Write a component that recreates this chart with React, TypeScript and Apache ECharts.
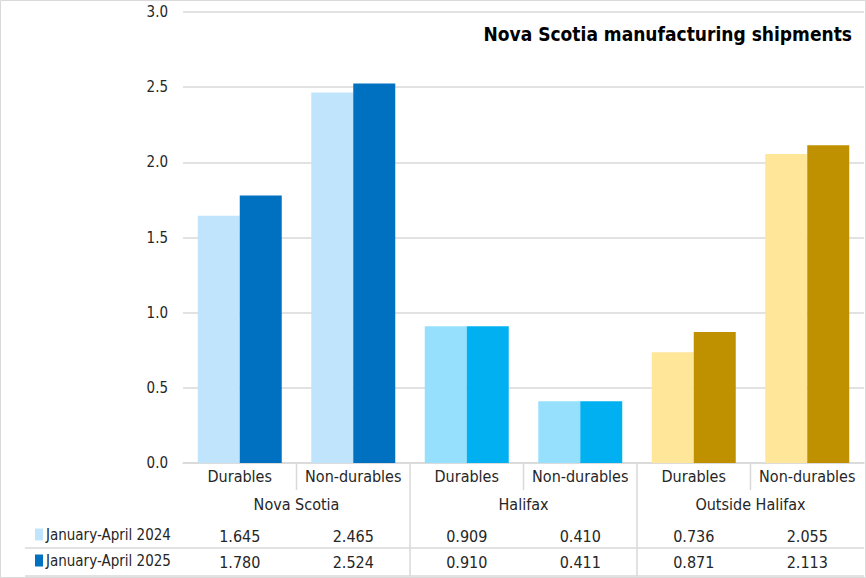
import React, { useEffect, useRef } from "react";
import * as echarts from "echarts";

const categories = ["Durables", "Non-durables", "Durables", "Non-durables", "Durables", "Non-durables"];
const groups = ["Nova Scotia", "Halifax", "Outside Halifax"];
const seriesNames = ["January-April 2024", "January-April 2025"];
const values2024 = [1.645, 2.465, 0.909, 0.41, 0.736, 2.055];
const values2025 = [1.78, 2.524, 0.91, 0.411, 0.871, 2.113];
const lightColors = ["#C0E4FC", "#C0E4FC", "#97E0FD", "#97E0FD", "#FFE699", "#FFE699"];
const darkColors = ["#0070C0", "#0070C0", "#00B0F0", "#00B0F0", "#BF9000", "#BF9000"];
const yTicks = { min: 0, max: 3, interval: 0.5 };
const title = "Nova Scotia manufacturing shipments";

const FONT = "'Liberation Sans Narrow', 'DejaVu Sans Condensed', 'Arial Narrow', sans-serif";
const TXT = "#262626";
const LINE = "#D9D9D9";

export default function App() {
  const ref = useRef<HTMLDivElement>(null);
  useEffect(() => {
    if (!ref.current) return;
    const chart = echarts.init(ref.current, undefined, { renderer: "svg" });
    const W = 866, H = 578;
    const left = 183, right = 2, top = 12, bottom = 115;
    const cw = (W - left - right) / categories.length;
    const axisY = H - bottom;
    const graphics: any[] = [];
    graphics.push({
      type: "rect",
      shape: { x: 0.5, y: 0.5, width: W - 1, height: H - 1 },
      style: { fill: "none", stroke: LINE, lineWidth: 1 },
      silent: true,
    });
    for (let i = 1; i < categories.length; i++) {
      const x = left + i * cw;
      const isGroup = i % 2 === 0;
      graphics.push({
        type: "line",
        shape: { x1: x, y1: axisY, x2: x, y2: isGroup ? H - 2 : axisY + 27 },
        style: { stroke: LINE, lineWidth: 1.5 },
        silent: true,
      });
    }
    [548, 576].forEach((y) => {
      graphics.push({
        type: "line",
        shape: { x1: 25, y1: y, x2: W - right, y2: y },
        style: { stroke: LINE, lineWidth: 1.5 },
        silent: true,
      });
    });

    const labelStyle = { fontFamily: FONT, fontSize: 16, color: TXT };
    chart.setOption({
      animation: false,
      title: {
        text: title,
        right: 9,
        top: 19,
        textStyle: { fontFamily: FONT, fontSize: 19, fontWeight: "bold", color: "#000" },
      },
      legend: {
        orient: "vertical",
        left: 30,
        top: 522,
        itemGap: 11,
        itemWidth: 8,
        itemHeight: 12,
        icon: "rect",
        textStyle: { fontFamily: FONT, fontSize: 15, color: TXT, padding: [0, 0, 0, -2] },
        data: seriesNames,
      },
      grid: { left, right, top, bottom, containLabel: false },
      xAxis: [
        {
          type: "category",
          data: categories,
          axisLine: { lineStyle: { color: LINE, width: 1.5 } },
          axisTick: { show: false },
          axisLabel: { ...labelStyle, margin: 5, interval: 0 },
        },
        {
          type: "category",
          data: groups,
          position: "bottom",
          offset: 28,
          axisLine: { show: false },
          axisTick: { show: false },
          axisLabel: { ...labelStyle, margin: 5, interval: 0 },
        },
        {
          type: "category",
          data: values2024.map((v) => v.toFixed(3)),
          position: "bottom",
          offset: 60,
          axisLine: { show: false },
          axisTick: { show: false },
          axisLabel: { ...labelStyle, margin: 5, interval: 0 },
        },
        {
          type: "category",
          data: values2025.map((v) => v.toFixed(3)),
          position: "bottom",
          offset: 86,
          axisLine: { show: false },
          axisTick: { show: false },
          axisLabel: { ...labelStyle, margin: 5, interval: 0 },
        },
      ],
      yAxis: {
        type: "value",
        min: yTicks.min,
        max: yTicks.max,
        interval: yTicks.interval,
        axisLine: { show: false },
        axisTick: { show: false },
        axisLabel: { ...labelStyle, fontSize: 15, margin: 15, formatter: (v: number) => v.toFixed(1) },
        splitLine: { lineStyle: { color: LINE, width: 1.5 } },
      },
      series: [
        {
          name: seriesNames[0],
          type: "bar",
          xAxisIndex: 0,
          barGap: "0%",
          barCategoryGap: "26%",
          itemStyle: { color: lightColors[0] },
          data: values2024.map((v, i) => ({ value: v, itemStyle: { color: lightColors[i] } })),
        },
        {
          name: seriesNames[1],
          type: "bar",
          xAxisIndex: 0,
          barGap: "0%",
          barCategoryGap: "26%",
          itemStyle: { color: darkColors[0] },
          data: values2025.map((v, i) => ({ value: v, itemStyle: { color: darkColors[i] } })),
        },
      ],
      graphic: graphics,
    });
    return () => chart.dispose();
  }, []);
  return <div ref={ref} style={{ position: "fixed", left: 0, top: 0, width: 866, height: 578, background: "#fff" }} />;
}
